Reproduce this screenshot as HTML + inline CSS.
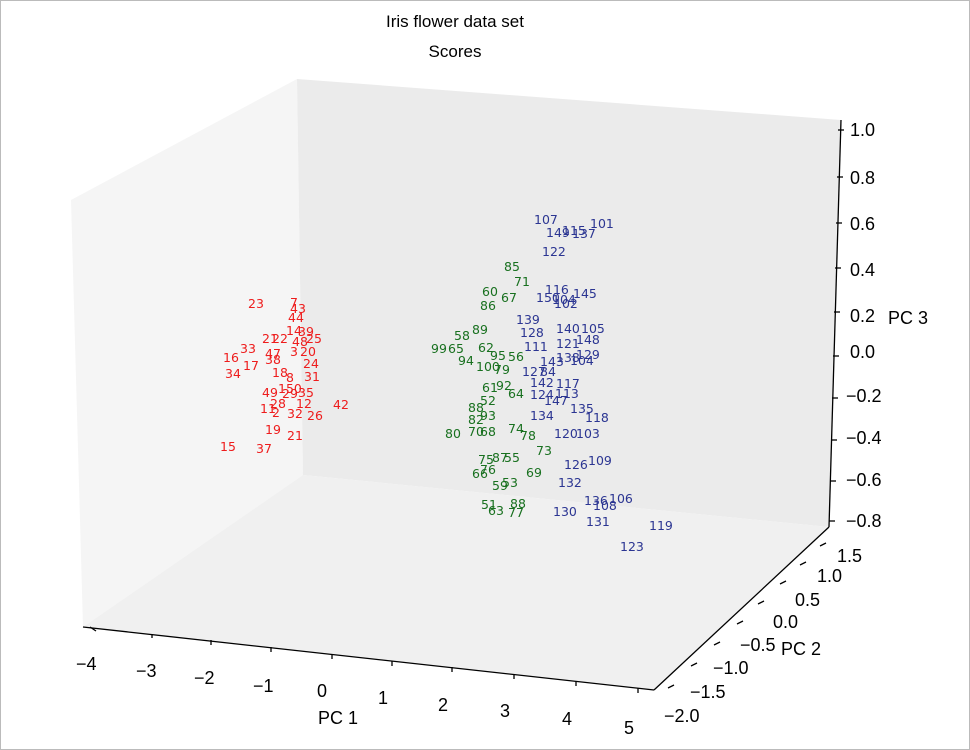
<!DOCTYPE html>
<html><head><style>
body{margin:0;background:#fff}
svg{display:block;font-family:"Liberation Sans",sans-serif}
.r,.g,.b{font-family:"DejaVu Sans",sans-serif;font-size:12.5px}
.r{fill:#ee1c1c}.g{fill:#18701f}.b{fill:#2b3592}
.t{font-size:18px;fill:#000}
</style></head><body>
<svg width="970" height="750" viewBox="0 0 970 750">
<rect x="0.5" y="0.5" width="969" height="749" fill="#fff" stroke="#bbb"/>
<text x="455" y="27" text-anchor="middle" font-size="17">Iris flower data set</text>
<text x="455" y="57" text-anchor="middle" font-size="17">Scores</text>
<polygon points="71,200 297,79 303,475 83,627" fill="#f5f5f5"/>
<polygon points="297,79 841,120 829,527 303,475" fill="#ebebeb"/>
<polygon points="83,627 303,475 829,527 654,690" fill="#f0f0f0"/>
<g stroke="#000" stroke-width="1.3" fill="none">
<line x1="83" y1="627" x2="654" y2="690"/>
<line x1="654" y1="690" x2="829" y2="527"/>
<line x1="841" y1="120" x2="829" y2="527"/>
</g>
<g stroke="#000" stroke-width="1.3">
<line x1="90" y1="627" x2="96" y2="631"/><line x1="152" y1="634" x2="152" y2="638"/>
<line x1="211" y1="640" x2="211" y2="645"/><line x1="271" y1="647" x2="271" y2="652"/>
<line x1="332" y1="654" x2="332" y2="659"/><line x1="392" y1="661" x2="392" y2="666"/>
<line x1="452" y1="667" x2="452" y2="672"/><line x1="514" y1="674" x2="514" y2="679"/>
<line x1="576" y1="681" x2="576" y2="686"/><line x1="638" y1="688" x2="638" y2="693"/>
<line x1="820" y1="546" x2="826" y2="543"/><line x1="800" y1="565" x2="806" y2="562"/>
<line x1="780" y1="584" x2="786" y2="581"/><line x1="758" y1="604" x2="764" y2="601"/>
<line x1="737" y1="624" x2="743" y2="621"/><line x1="714" y1="645" x2="720" y2="642"/>
<line x1="691" y1="666" x2="697" y2="663"/><line x1="668" y1="688" x2="674" y2="685"/>
<line x1="838" y1="130" x2="844" y2="130"/><line x1="837" y1="177" x2="843" y2="177"/>
<line x1="836" y1="223" x2="842" y2="223"/><line x1="835" y1="268" x2="841" y2="268"/>
<line x1="834" y1="312" x2="840" y2="312"/><line x1="833" y1="356" x2="839" y2="356"/>
<line x1="832" y1="398" x2="838" y2="398"/><line x1="831" y1="440" x2="837" y2="440"/>
<line x1="830" y1="481" x2="836" y2="481"/><line x1="829" y1="521" x2="835" y2="521"/>
</g>
<g class="t">
<text x="76" y="670">−4</text><text x="136" y="677">−3</text><text x="194" y="684">−2</text>
<text x="253" y="692">−1</text><text x="317" y="697">0</text><text x="378" y="704">1</text>
<text x="438" y="711">2</text><text x="500" y="717">3</text><text x="562" y="725">4</text><text x="624" y="734">5</text>
<text x="318" y="724">PC 1</text>
<text x="837" y="562">1.5</text><text x="817" y="582">1.0</text><text x="795" y="606">0.5</text>
<text x="773" y="628">0.0</text><text x="740" y="651">−0.5</text><text x="713" y="674">−1.0</text>
<text x="690" y="698">−1.5</text><text x="664" y="722">−2.0</text><text x="781" y="655">PC 2</text>
<text x="850" y="136">1.0</text><text x="850" y="184">0.8</text><text x="850" y="230">0.6</text>
<text x="850" y="276">0.4</text><text x="850" y="322">0.2</text><text x="850" y="358">0.0</text>
<text x="846" y="402">−0.2</text><text x="846" y="444">−0.4</text><text x="846" y="486">−0.6</text>
<text x="846" y="527">−0.8</text><text x="888" y="324">PC 3</text>
</g>
<g class="r">
<text x="248" y="308">23</text><text x="290" y="307">7</text><text x="290" y="313">43</text><text x="288" y="322">44</text>
<text x="286" y="335">14</text><text x="298" y="336">39</text><text x="262" y="343">21</text><text x="272" y="343">22</text>
<text x="292" y="346">48</text><text x="306" y="343">25</text><text x="240" y="353">33</text><text x="265" y="358">47</text>
<text x="290" y="356">3</text><text x="300" y="356">20</text><text x="223" y="362">16</text><text x="265" y="364">38</text>
<text x="243" y="370">17</text><text x="225" y="378">34</text><text x="303" y="368">24</text><text x="272" y="377">18</text>
<text x="286" y="382">8</text><text x="304" y="381">31</text><text x="278" y="393">150</text><text x="262" y="397">49</text>
<text x="282" y="398">29</text><text x="298" y="397">35</text><text x="270" y="408">28</text><text x="296" y="408">12</text>
<text x="260" y="413">11</text><text x="272" y="417">2</text><text x="287" y="418">32</text><text x="307" y="420">26</text>
<text x="333" y="409">42</text><text x="265" y="434">19</text><text x="287" y="440">21</text><text x="220" y="451">15</text>
<text x="256" y="453">37</text>
</g>
<g class="g">
<text x="504" y="271">85</text><text x="514" y="286">71</text><text x="482" y="296">60</text><text x="501" y="302">67</text>
<text x="480" y="310">86</text><text x="472" y="334">89</text><text x="454" y="340">58</text><text x="431" y="353">99</text>
<text x="448" y="353">65</text><text x="478" y="352">62</text><text x="458" y="365">94</text><text x="490" y="360">95</text>
<text x="508" y="361">56</text><text x="476" y="371">100</text><text x="494" y="374">79</text><text x="482" y="392">61</text>
<text x="496" y="390">92</text><text x="508" y="398">64</text><text x="480" y="405">52</text><text x="468" y="412">88</text>
<text x="480" y="420">93</text><text x="468" y="424">82</text><text x="445" y="438">80</text><text x="468" y="436">70</text>
<text x="480" y="436">68</text><text x="508" y="433">74</text><text x="520" y="440">78</text><text x="536" y="455">73</text>
<text x="478" y="464">75</text><text x="492" y="462">87</text><text x="504" y="462">55</text><text x="480" y="474">76</text>
<text x="472" y="478">66</text><text x="526" y="477">69</text><text x="492" y="490">59</text><text x="502" y="487">53</text>
<text x="481" y="509">51</text><text x="488" y="515">63</text><text x="510" y="508">88</text><text x="508" y="517">77</text>
</g>
<g class="b">
<text x="534" y="224">107</text><text x="546" y="237">149</text><text x="562" y="235">115</text><text x="572" y="238">137</text>
<text x="590" y="228">101</text><text x="542" y="256">122</text><text x="545" y="294">116</text><text x="536" y="302">150</text>
<text x="552" y="304">104</text><text x="554" y="308">102</text><text x="573" y="298">145</text><text x="516" y="324">139</text>
<text x="520" y="337">128</text><text x="524" y="351">111</text><text x="556" y="333">140</text><text x="581" y="333">105</text>
<text x="556" y="348">121</text><text x="576" y="344">148</text><text x="576" y="359">129</text><text x="540" y="366">143</text>
<text x="556" y="362">138</text><text x="570" y="365">104</text><text x="522" y="376">127</text><text x="540" y="376">84</text>
<text x="530" y="387">142</text><text x="556" y="388">117</text><text x="530" y="399">124</text><text x="555" y="398">113</text>
<text x="544" y="405">147</text><text x="530" y="420">134</text><text x="570" y="413">135</text><text x="585" y="422">118</text>
<text x="554" y="438">120</text><text x="576" y="438">103</text><text x="564" y="469">126</text><text x="588" y="465">109</text>
<text x="558" y="487">132</text><text x="584" y="505">136</text><text x="609" y="503">106</text><text x="593" y="510">108</text>
<text x="553" y="516">130</text><text x="586" y="526">131</text><text x="649" y="530">119</text><text x="620" y="551">123</text>
</g>
</svg>
</body></html>
